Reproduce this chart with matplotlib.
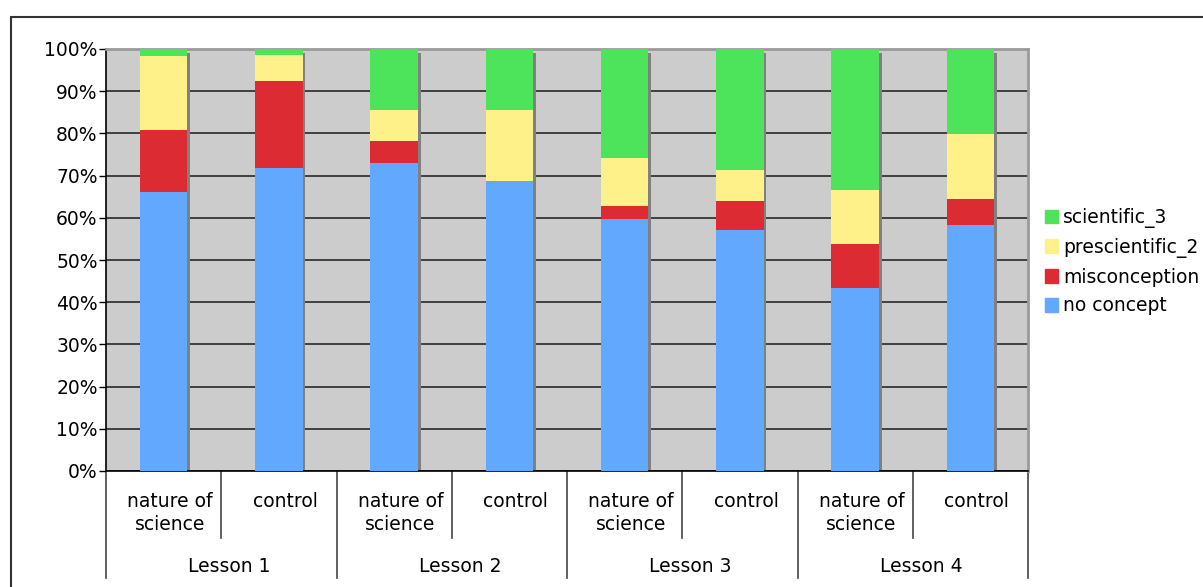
import matplotlib.pyplot as plt
from matplotlib.patches import Patch, Rectangle
from matplotlib.ticker import FuncFormatter

plt.rcParams['font.family'] = 'DejaVu Sans'

groups = ['nature of\nscience', 'control'] * 4
lessons = ['Lesson 1', 'Lesson 2', 'Lesson 3', 'Lesson 4']

no_concept = [66.1, 71.8, 73.0, 68.7, 59.7, 57.1, 43.4, 58.3]
misconception = [14.7, 20.6, 5.2, 0.0, 3.2, 6.9, 10.4, 6.2]
prescientific = [17.5, 6.2, 7.3, 16.8, 11.3, 7.3, 12.8, 15.4]
scientific = [1.7, 1.4, 14.5, 14.5, 25.8, 28.7, 33.4, 20.1]

series = [
    ('no concept', no_concept, '#62a8ff'),
    ('misconception', misconception, '#dd2b33'),
    ('prescientific_2', prescientific, '#fff18a'),
    ('scientific_3', scientific, '#4de35a'),
]

W, H = 1203, 587
fig = plt.figure(figsize=(W / 100, H / 100), dpi=100)
ax = fig.add_axes([106 / W, (H - 471) / H, 922 / W, 422 / H])
ax.set_facecolor('#cccccc')

x = list(range(len(groups)))
bw = 0.41

# shadow strip on the right of each bar
ax.bar([i + 0.026 for i in x], [99] * len(x), width=bw, color='#808080', zorder=2)

bottom = [0.0] * len(x)
for name, vals, col in series:
    ax.bar(x, vals, width=bw, bottom=bottom, color=col, label=name, zorder=3)
    bottom = [b + v for b, v in zip(bottom, vals)]

ax.set_xlim(-0.5, 7.5)
ax.set_ylim(0, 100)
ax.set_yticks(range(0, 101, 10))
ax.yaxis.set_major_formatter(FuncFormatter(lambda v, p: '%d%%' % v))
ax.tick_params(axis='y', length=5, width=1, pad=1, labelsize=13.5, colors='black')
ax.set_xticks([])
ax.grid(axis='y', color='#1a1a1a', linewidth=1.1, zorder=1)
ax.set_axisbelow(True)

for s in ['top', 'right']:
    ax.spines[s].set_color('#9a9a9a')
    ax.spines[s].set_linewidth(2)
ax.spines['left'].set_color('black')
ax.spines['bottom'].set_color('black')
ax.spines['left'].set_linewidth(1.2)
ax.spines['bottom'].set_linewidth(1.2)

# multi-level category axis
tr = ax.get_xaxis_transform()
px = 1 / 422  # one pixel in axes-height units
for i in range(len(groups) + 1):
    if i % 2 == 0:
        y_end = -107 * px
    else:
        y_end = -67 * px
    ax.plot([i - 0.5, i - 0.5], [0, y_end], transform=tr, color='#444444',
            lw=1.2, clip_on=False)

off = 0.055
for i, g in enumerate(groups):
    ax.text(i + off, -21 * px, g, transform=tr, ha='center', va='top',
            fontsize=13.5, linespacing=1.3)
for j, les in enumerate(lessons):
    ax.text(2 * j + 0.5 + 0.07, -95 * px, les, transform=tr, ha='center',
            va='center', fontsize=13.5)

handles = [Patch(color=c, label=n) for n, v, c in series[::-1]]
fig.legend(handles=handles, loc='upper left', bbox_to_anchor=(1045 / W, (H - 208) / H),
           frameon=False, fontsize=13.5, handlelength=0.7, handleheight=0.75,
           handletextpad=0.25, labelspacing=0.52, borderpad=0, borderaxespad=0)

fig.patches.append(Rectangle((11 / W, -0.1), 1.2, (H - 17) / H + 0.1,
                             transform=fig.transFigure, fill=False,
                             edgecolor='#333333', lw=1.5))

fig.savefig('out.png', dpi=100)
